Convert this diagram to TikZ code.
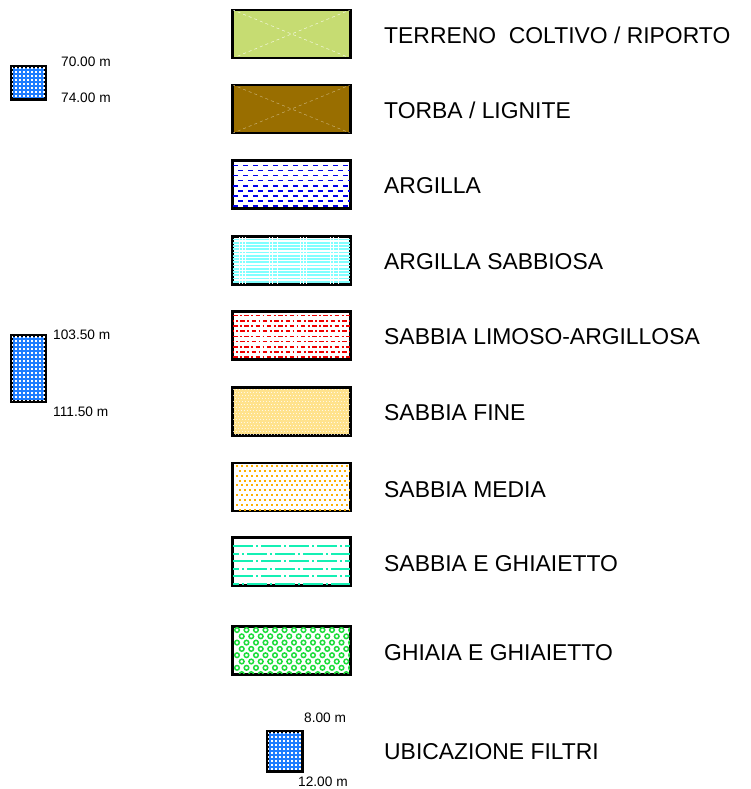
\documentclass[tikz,border=0pt]{standalone}
\usepackage{fontspec}
\setmainfont{Liberation Sans}
\definecolor{terreno}{RGB}{198,220,114}
\definecolor{torba}{RGB}{153,110,0}
\definecolor{argblue}{RGB}{0,0,235}
\definecolor{sabcyan}{RGB}{128,255,255}
\definecolor{limred}{RGB}{240,0,0}
\definecolor{finey}{RGB}{255,226,140}
\definecolor{medor}{RGB}{255,176,0}
\definecolor{ghiet}{RGB}{20,240,180}
\definecolor{ghgreen}{RGB}{30,220,60}
\definecolor{filtblue}{RGB}{30,125,255}
\tikzset{
  soilbox/.style={draw=black, line width=1.8pt, minimum width=117pt, minimum height=47pt, inner sep=0pt},
  filtbox/.style={draw=black, line width=1.6pt, fill=filtblue, inner sep=0pt},
  lbl/.style={anchor=west, inner sep=0pt, text height=16.3pt, text depth=0pt, font=\fontsize{22.9}{26}\selectfont},
  slbl/.style={anchor=west, inner sep=0pt, text height=9.8pt, text depth=0pt, font=\fontsize{13.7}{16}\selectfont},
}
\newcommand\filtgrid[1]{%
  \begin{scope}
    \clip (#1.south west) rectangle (#1.north east);
    \foreach \k in {0,...,20}{
      \draw[white, line width=1.5pt, dash pattern=on 1.6pt off 2.4pt]
        ([yshift=-2pt-4*\k pt]#1.north west) -- ([yshift=-2pt-4*\k pt]#1.north east);
    }
  \end{scope}
  \draw[black, line width=1.6pt] (#1.south west) rectangle (#1.north east);
}
\begin{document}
\begin{tikzpicture}[x=1pt,y=-1pt]
\useasboundingbox (0,0) rectangle (751,789);
\fill[white] (0,0) rectangle (751,789);

% ---- box 1: terreno
\node[soilbox, fill=terreno] (b1) at (291.5,34) {};
\draw[white!80!terreno, line width=0.5pt, dashed] (b1.north west) -- (b1.south east) (b1.south west) -- (b1.north east);
\draw[black, line width=1.8pt] (b1.south west) rectangle (b1.north east);

% ---- box 2: torba
\node[soilbox, fill=torba] (b2) at (291.5,109) {};
\draw[white!45!torba, line width=0.5pt, dashed] (b2.north west) -- (b2.south east) (b2.south west) -- (b2.north east);
\draw[black, line width=1.8pt] (b2.south west) rectangle (b2.north east);

% ---- box 3: argilla
\node[soilbox] (b3) at (291.5,184.5) {};
\begin{scope}
\clip (b3.south west) rectangle (b3.north east);
\foreach \k in {0,...,8}{
  \pgfmathsetmacro\ph{mod(\k,2)*5}
  \draw[argblue, line width=1.6pt, dash pattern=on 4.5pt off 5.5pt, dash phase=\ph pt]
    (233,165.3+5.1*\k) -- (352,165.3+5.1*\k);
}
\end{scope}
\draw[black, line width=1.8pt] (b3.south west) rectangle (b3.north east);

% ---- box 4: argilla sabbiosa
\node[soilbox] (b4) at (291.5,260.5) {};
\begin{scope}
\clip (b4.south west) rectangle (b4.north east);
\foreach \k in {0,...,14}{
  \draw[sabcyan, line width=1.9pt] (233,239.5+3.25*\k) -- (352,239.5+3.25*\k);
}
\foreach \xx in {239,242,245,269,272,277,300,303,306,330,333,338}{
  \draw[white, line width=0.8pt] (\xx,236) -- (\xx,286);
}
\end{scope}
\draw[black, line width=1.8pt] (b4.south west) rectangle (b4.north east);

% ---- box 5: sabbia limoso-argillosa
\node[soilbox] (b5) at (291.5,335.5) {};
\begin{scope}
\clip (b5.south west) rectangle (b5.north east);
\foreach \k in {0,...,8}{
  \pgfmathsetmacro\ph{mod(\k,2)*4}
  \draw[limred, line width=1.6pt, dash pattern=on 4.5pt off 2.5pt on 1.8pt off 2.5pt, dash phase=\ph pt]
    (233,315.5+5.2*\k) -- (352,315.5+5.2*\k);
}
\end{scope}
\draw[black, line width=1.8pt] (b5.south west) rectangle (b5.north east);

% ---- box 6: sabbia fine
\node[soilbox, fill=finey] (b6) at (291.5,411.5) {};
\begin{scope}
\clip (b6.south west) rectangle (b6.north east);
\foreach \k in {0,...,15}{
  \pgfmathsetmacro\ph{mod(\k,2)*1.5}
  \draw[white, opacity=0.75, line width=1pt, dash pattern=on 1.4pt off 1.6pt, dash phase=\ph pt]
    (233,389.5+3*\k) -- (352,389.5+3*\k);
}
\end{scope}
\draw[black, line width=1.8pt] (b6.south west) rectangle (b6.north east);

% ---- box 7: sabbia media
\node[soilbox] (b7) at (291.5,487) {};
\begin{scope}
\clip (b7.south west) rectangle (b7.north east);
\foreach \k in {0,...,9}{
  \pgfmathsetmacro\ph{mod(\k,2)*2.5}
  \draw[medor, line width=1.9pt, dash pattern=on 2pt off 3pt, dash phase=\ph pt]
    (236,466+4.85*\k) -- (352,466+4.85*\k);
}
\end{scope}
\draw[black, line width=1.8pt] (b7.south west) rectangle (b7.north east);

% ---- box 8: sabbia e ghiaietto
\node[soilbox] (b8) at (291.5,561.5) {};
\begin{scope}
\clip (b8.south west) rectangle (b8.north east);
\foreach \k in {0,...,5}{
  \pgfmathsetmacro\ph{mod(\k,2)*14}
  \draw[ghiet, line width=2pt, dash pattern=on 20pt off 3pt on 2pt off 3pt, dash phase=\ph pt]
    (233,546.3+7.5*\k) -- (352,546.3+7.5*\k);
}
\end{scope}
\draw[black, line width=1.8pt] (b8.south west) rectangle (b8.north east);

% ---- box 9: ghiaia e ghiaietto
\node[soilbox] (b9) at (291.5,650.5) {};
\begin{scope}
\clip (b9.south west) rectangle (b9.north east);
\foreach \r in {0,...,7}{
  \pgfmathsetmacro\off{mod(\r,2)*4.75}
  \foreach \c in {0,...,12}{
    \draw[ghgreen, line width=1.5pt] (237+\off+9.5*\c,630+6.3*\r) circle (2.3pt);
  }
}
\end{scope}
\draw[black, line width=1.8pt] (b9.south west) rectangle (b9.north east);

% ---- filter boxes
\node[filtbox, minimum width=33pt, minimum height=32pt] (f1) at (28.5,83) {};
\filtgrid{f1}
\node[filtbox, minimum width=33pt, minimum height=65pt] (f2) at (28.5,368.5) {};
\filtgrid{f2}
\node[filtbox, minimum width=34pt, minimum height=39pt] (f3) at (285,751.5) {};
\filtgrid{f3}

% ---- labels
\node[lbl] (l1) at (384,35) {TERRENO~ COLTIVO / RIPORTO};
\node[lbl] (l2) at (384,110) {TORBA / LIGNITE};
\node[lbl] (l3) at (384,185) {ARGILLA};
\node[lbl] (l4) at (384,261) {ARGILLA SABBIOSA};
\node[lbl] (l5) at (384,336) {SABBIA LIMOSO-ARGILLOSA};
\node[lbl] (l6) at (384,412) {SABBIA FINE};
\node[lbl] (l7) at (384,489) {SABBIA MEDIA};
\node[lbl] (l8) at (384,563) {SABBIA E GHIAIETTO};
\node[lbl] (l9) at (384,652) {GHIAIA E GHIAIETTO};
\node[lbl] (l10) at (384,751) {UBICAZIONE FILTRI};

\node[slbl] (s1) at (61,62) {70.00 m};
\node[slbl] (s2) at (61,98) {74.00 m};
\node[slbl] (s3) at (53,335) {103.50 m};
\node[slbl] (s4) at (53,412) {111.50 m};
\node[slbl] (s5) at (304,718) {8.00 m};
\node[slbl] (s6) at (298,782) {12.00 m};
\end{tikzpicture}
\end{document}
